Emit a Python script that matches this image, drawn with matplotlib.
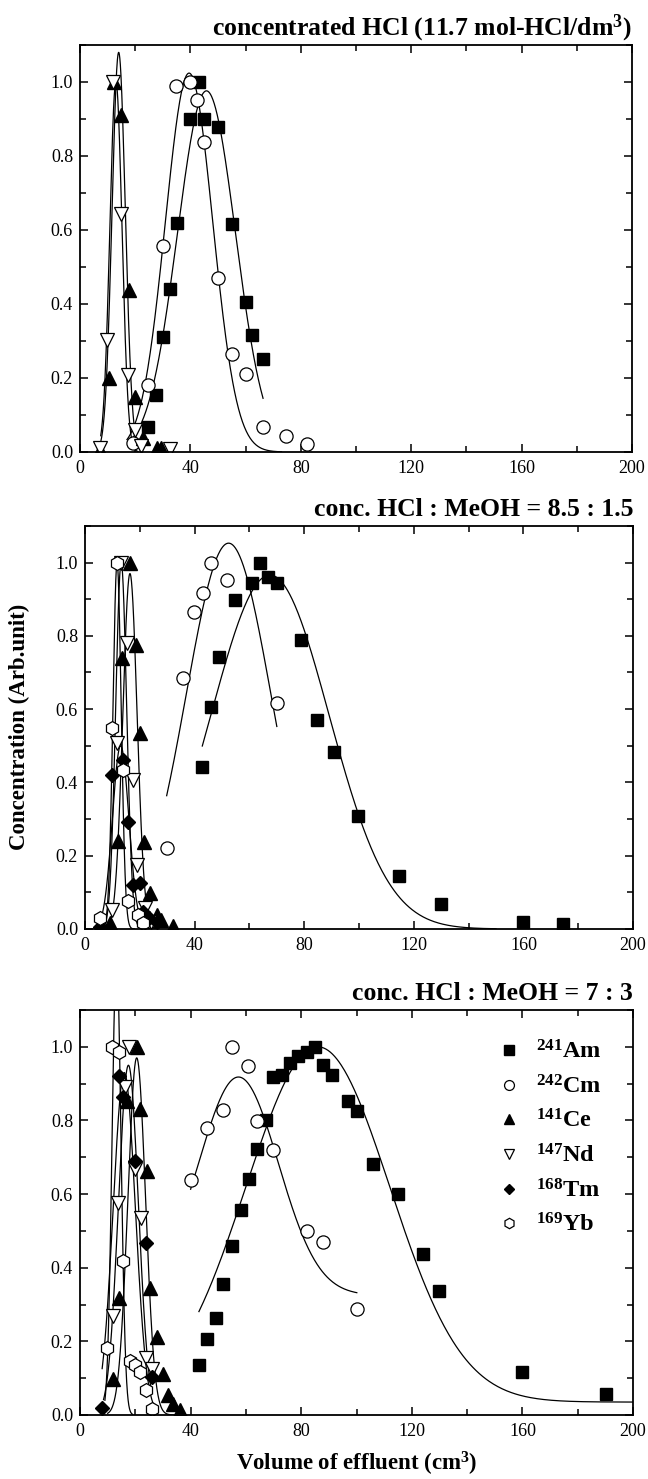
import numpy as np
import matplotlib
matplotlib.use("Agg")
import matplotlib.pyplot as plt
from matplotlib.ticker import MultipleLocator

plt.rcParams['font.family'] = 'Liberation Serif'
plt.rcParams['mathtext.fontset'] = 'custom'
plt.rcParams['mathtext.rm'] = 'Liberation Serif:bold'
plt.rcParams['mathtext.it'] = 'Liberation Serif:bold'
plt.rcParams['mathtext.bf'] = 'Liberation Serif:bold'
plt.rcParams['mathtext.default'] = 'rm'

# ---------------- data: panel 1 (conc. HCl) ---------------- #

am1_x = [24.8, 27.6, 30.1, 32.6, 35.0, 40.0, 43.2, 44.8, 50.0, 55.0, 60.0, 62.4, 66.3]
am1_y = [0.068, 0.154, 0.31, 0.44, 0.62, 0.90, 1.0, 0.90, 0.877, 0.617, 0.404, 0.316, 0.251]
cm1_x = [19.3, 24.8, 29.9, 34.7, 39.8, 42.4, 44.8, 50.0, 54.9, 60.0, 66.4, 74.5, 82.4]
cm1_y = [0.024, 0.181, 0.556, 0.99, 1.0, 0.952, 0.838, 0.469, 0.265, 0.21, 0.067, 0.044, 0.021]
ce1_x = [7.2, 10.5, 12.4, 15.0, 17.8, 19.9, 22.9, 27.8, 29.5]
ce1_y = [0.005, 0.199, 1.0, 0.91, 0.437, 0.149, 0.037, 0.01, 0.01]
nd1_x = [7.2, 9.9, 12.0, 15.0, 17.5, 19.9, 22.0, 32.5]
nd1_y = [0.01, 0.302, 1.0, 0.643, 0.208, 0.059, 0.015, 0.008]

# fitted curves: center, peak, width, x start, x end, baseline
fit1 = [(45.8, 0.976, 10.5, 18.0, 66.3, 0.0),
        (39.5, 1.024, 8.6, 17.0, 73.0, 0.0),
        (14.0, 1.08, 2.4, 7.0, 22.0, 0.0),
        (13.0, 1.0, 2.2, 7.5, 21.0, 0.0)]

# ---------------- data: panel 2 (HCl : MeOH = 8.5 : 1.5) ---------------- #

am2_x = [42.8, 45.9, 48.9, 54.7, 60.8, 63.9, 66.9, 70.0, 78.7, 84.8, 90.9, 99.8, 114.7, 129.8, 159.7, 174.6]
am2_y = [0.443, 0.605, 0.742, 0.898, 0.943, 1.0, 0.96, 0.943, 0.79, 0.570, 0.484, 0.308, 0.145, 0.067, 0.02, 0.014]
cm2_x = [29.8, 35.9, 39.8, 42.9, 45.9, 51.9, 70.0]
cm2_y = [0.22, 0.684, 0.864, 0.916, 1.0, 0.952, 0.618]
ce2_x = [9.1, 12.2, 13.4, 16.4, 18.6, 20.1, 21.6, 23.7, 26.2, 27.6, 32.2]
ce2_y = [0.016, 0.24, 0.739, 1.0, 0.775, 0.534, 0.236, 0.097, 0.038, 0.025, 0.008]
nd2_x = [9.7, 11.6, 13.0, 15.2, 17.6, 18.9, 21.9, 24.0]
nd2_y = [0.052, 0.507, 1.0, 0.78, 0.407, 0.175, 0.056, 0.02]
tm2_x = [5.5, 9.7, 14.0, 15.8, 17.6, 20.1, 21.3, 23.5, 26.2]
tm2_y = [0.005, 0.42, 0.461, 0.293, 0.12, 0.125, 0.047, 0.03, 0.02]
yb2_x = [5.5, 9.7, 11.6, 14.0, 15.8, 19.5, 21.3]
yb2_y = [0.029, 0.548, 1.0, 0.434, 0.077, 0.038, 0.016]

fit2 = [(67.5, 0.966, 21.5, 42.8, 150.0, 0.0),
        (52.4, 1.053, 15.5, 29.8, 70.0, 0.0),
        (11.7, 1.0, 1.5, 6.0, 18.0, 0.0),
        (13.2, 1.0, 2.0, 7.0, 21.0, 0.0),
        (16.4, 0.97, 2.6, 8.0, 27.0, 0.0),
        (13.0, 0.5, 3.0, 5.0, 26.0, 0.0)]

# ---------------- data: panel 3 (HCl : MeOH = 7 : 3) ---------------- #

am3_x = [43.0, 46.1, 49.1, 51.8, 55.1, 58.1, 61.1, 64.1, 67.3, 69.9, 72.9, 75.9, 79.0,
         82.2, 85.0, 88.0, 91.0, 97.0, 100.1, 105.9, 114.9, 124.0, 130.0, 160.0, 190.1]
am3_y = [0.136, 0.206, 0.263, 0.355, 0.459, 0.558, 0.64, 0.723, 0.802, 0.918, 0.924, 0.956, 0.974,
         0.987, 1.0, 0.951, 0.924, 0.852, 0.825, 0.683, 0.599, 0.438, 0.337, 0.117, 0.057]
cm3_x = [40.0, 45.8, 51.8, 54.9, 60.9, 63.9, 69.9, 82.0, 88.0, 100.1]
cm3_y = [0.637, 0.78, 0.829, 1.0, 0.947, 0.798, 0.719, 0.5, 0.47, 0.287]
ce3_x = [12.1, 14.2, 17.1, 20.5, 21.7, 24.1, 25.3, 28.0, 30.1, 31.9, 33.7, 36.2]
ce3_y = [0.098, 0.319, 0.852, 1.0, 0.831, 0.662, 0.346, 0.213, 0.11, 0.054, 0.03, 0.014]
nd3_x = [11.9, 13.9, 16.3, 17.8, 19.9, 21.9, 23.8, 25.9]
nd3_y = [0.269, 0.576, 0.892, 1.0, 0.667, 0.536, 0.154, 0.125]
tm3_x = [7.8, 14.2, 15.4, 19.9, 23.9, 25.9]
tm3_y = [0.018, 0.921, 0.864, 0.691, 0.466, 0.103]
yb3_x = [9.8, 11.5, 14.2, 15.7, 18.1, 19.8, 21.8, 23.7, 25.9]
yb3_y = [0.182, 1.0, 0.987, 0.418, 0.147, 0.137, 0.116, 0.068, 0.016]

fit3 = [(86.0, 1.0, 26.0, 43.0, 201.0, 0.035),
        (57.3, 0.918, 14.4, 40.0, 100.1, 0.325),
        (13.2, 1.25, 1.6, 9.0, 19.0, 0.0),
        (16.0, 0.93, 4.0, 8.0, 27.0, 0.0),
        (17.5, 0.95, 3.6, 8.5, 26.0, 0.0),
        (20.5, 0.97, 3.2, 10.0, 36.0, 0.0)]

titles = ['concentrated HCl (11.7 mol-HCl/dm$^3$)',
          'conc. HCl : MeOH = 8.5 : 1.5',
          'conc. HCl : MeOH = 7 : 3']
labels = [r'$^{241}$Am', r'$^{242}$Cm', r'$^{141}$Ce', r'$^{147}$Nd', r'$^{168}$Tm', r'$^{169}$Yb']

# ---------------- #

styles = [dict(marker='s', ms=9, mfc='black', mec='black'),
          dict(marker='o', ms=9.5, mfc='white', mec='black', mew=0.9),
          dict(marker='^', ms=10, mfc='black', mec='black'),
          dict(marker='v', ms=10, mfc='white', mec='black', mew=0.9),
          dict(marker='D', ms=7, mfc='black', mec='black'),
          dict(marker='h', ms=10, mfc='white', mec='black', mew=0.9)]

panels = [
    ([(am1_x, am1_y), (cm1_x, cm1_y), (ce1_x, ce1_y), (nd1_x, nd1_y), None, None], fit1),
    ([(am2_x, am2_y), (cm2_x, cm2_y), (ce2_x, ce2_y), (nd2_x, nd2_y), (tm2_x, tm2_y), (yb2_x, yb2_y)], fit2),
    ([(am3_x, am3_y), (cm3_x, cm3_y), (ce3_x, ce3_y), (nd3_x, nd3_y), (tm3_x, tm3_y), (yb3_x, yb3_y)], fit3),
]

rects = [[0.1235, 0.6944, 0.852, 0.2752],
         [0.1312, 0.3719, 0.8457, 0.2725],
         [0.1235, 0.0433, 0.8534, 0.2738]]

fig = plt.figure(figsize=(6.48, 14.79), dpi=100)

for k, (series, fits) in enumerate(panels):
    ax = fig.add_axes(rects[k])

    for (c, p, s, x0, x1, b) in fits:
        xx = np.linspace(x0, x1, 400)
        ax.plot(xx, b + (p - b) * np.exp(-(xx - c)**2 / (2 * s**2)), color='black', lw=0.9)

    for i, ser in enumerate(series):
        if ser is None:
            continue
        ax.plot(ser[0], ser[1], linestyle='none', label=labels[i], **styles[i])

    ax.set_xlim(0, 200)
    ax.set_ylim(0, 1.1)
    ax.xaxis.set_major_locator(MultipleLocator(40))
    ax.xaxis.set_minor_locator(MultipleLocator(20))
    ax.yaxis.set_major_locator(MultipleLocator(0.2))
    ax.yaxis.set_minor_locator(MultipleLocator(0.1))
    ax.set_yticks([0.0, 0.2, 0.4, 0.6, 0.8, 1.0])
    ax.set_yticklabels(['0.0', '0.2', '0.4', '0.6', '0.8', '1.0'])
    ax.tick_params(which='both', direction='in', top=True, right=True, labelsize=13, width=1.1)
    ax.tick_params(which='major', length=6)
    ax.tick_params(which='minor', length=4.5)
    ax.tick_params(axis='x', pad=6)
    ax.tick_params(axis='y', pad=5)
    for sp in ax.spines.values():
        sp.set_linewidth(1.3)
    ax.set_title(titles[k], loc='right', fontsize=18.5, fontweight='bold', pad=7)

    if k == 2:
        ax.legend(loc='upper right', bbox_to_anchor=(0.965, 0.955), frameon=False,
                  prop={'weight': 'bold', 'size': 17.5}, markerscale=0.75,
                  handlelength=1.2, handletextpad=0.5, labelspacing=0.47, borderpad=0)

fig.text(0.03, 0.5085, 'Concentration (Arb.unit)', rotation=90, ha='center', va='center',
         fontsize=16.5, fontweight='bold')
fig.text(0.55, 0.001, 'Volume of effluent (cm$^3$)', ha='center', va='bottom',
         fontsize=16.5, fontweight='bold')

plt.savefig('out.png', dpi=100)
